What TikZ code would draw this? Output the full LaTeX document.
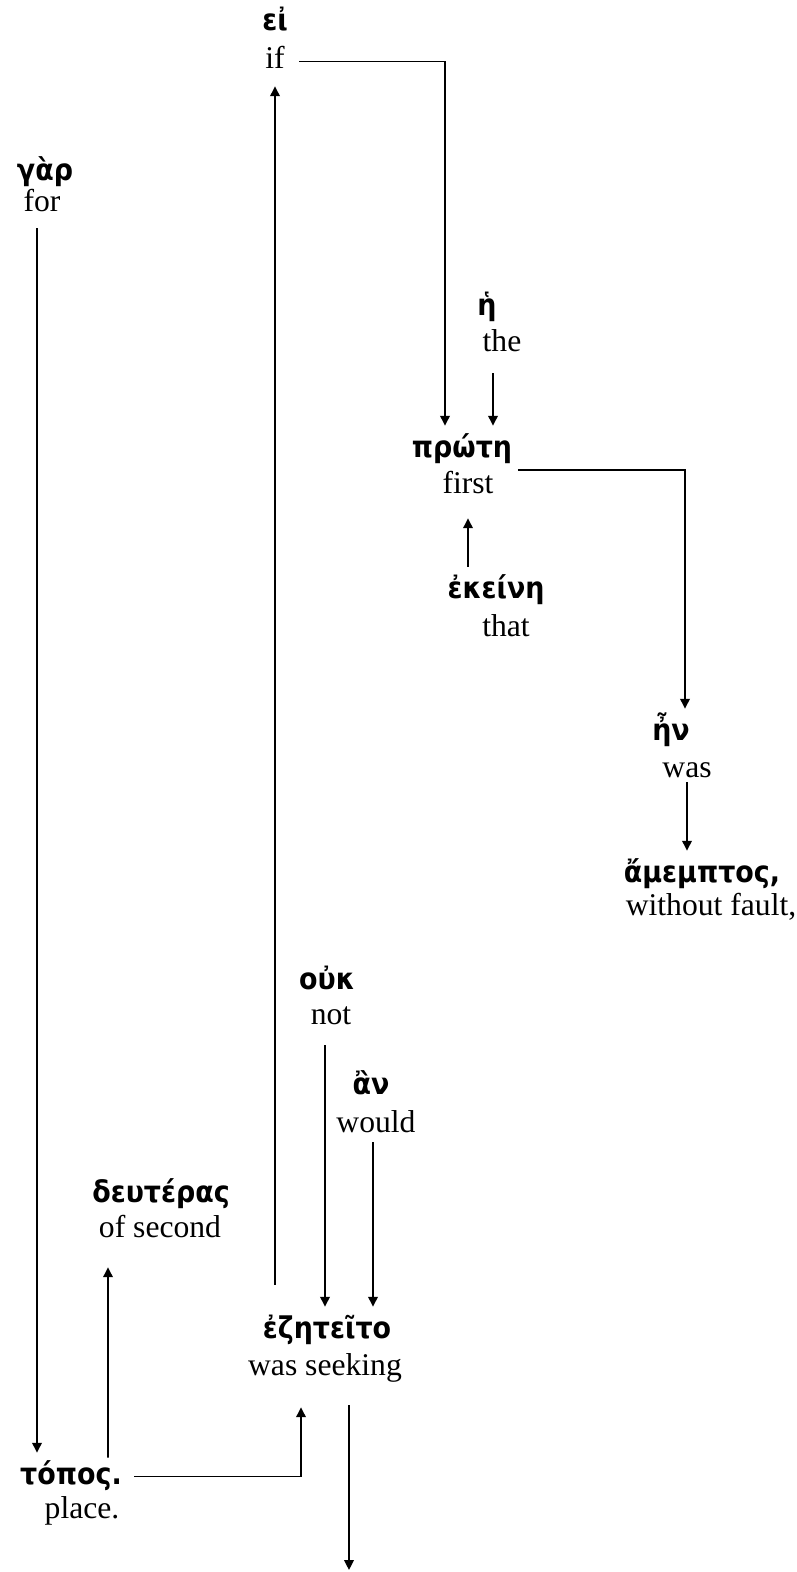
\documentclass[tikz,border=0pt]{standalone}
\usepackage{fontspec}
\setmainfont{Liberation Serif}
\newfontfamily\greekfont[Script=Greek, FakeStretch=0.9]{DejaVu Sans}
\usepackage{tikz}
\usetikzlibrary{arrows.meta}
\tikzset{
	wordbox/.style={anchor=base, inner xsep=.24cm, inner ysep=.2cm}
}
\tikzstyle{greek}=[wordbox, font=\greekfont\bfseries\fontsize{17}{20}\selectfont, text height=.42cm, text depth=.12cm]
\tikzstyle{gloss}=[wordbox, font=\fontsize{18}{21}\selectfont, text height=.44cm, text depth=.14cm]
\tikzstyle{wire}=[line width=1.1pt, -{Triangle[length=5.6pt,width=5.4pt]}]
\newcommand{\gword}[6]{
	\node[greek] (#1) at #3 {#5};
	\node[gloss] (#2) at #4 {#6};
}

\begin{document}
\begin{tikzpicture}
	\useasboundingbox (0,0) rectangle (15.94,-31.44);
	\gword{ei}{if}{(5.50,-.62)}{(5.50,-1.38)}{εἰ}{if}
	\gword{gar}{for}{(.90,-3.62)}{(.84,-4.22)}{γὰρ}{for}
	\gword{he}{the}{(9.74,-6.30)}{(10.04,-7.02)}{ἡ}{the}
	\gword{prote}{first}{(9.24,-9.14)}{(9.36,-9.86)}{πρώτη}{first}
	\gword{ekeine}{that}{(9.92,-11.96)}{(10.12,-12.72)}{ἐκείνη}{that}
	\gword{en}{was}{(13.42,-14.80)}{(13.74,-15.54)}{ἦν}{was}
	\gword{amemptos}{fault}{(14.04,-17.64)}{(14.22,-18.30)}{ἄμεμπτος,}{without fault,}
	\gword{ouk}{not}{(6.54,-19.78)}{(6.62,-20.48)}{οὐκ}{not}
	\gword{an}{would}{(7.42,-21.88)}{(7.52,-22.64)}{ἂν}{would}
	\gword{deuteras}{second}{(3.22,-24.04)}{(3.20,-24.74)}{δευτέρας}{of second}
	\gword{ezeteito}{seeking}{(6.54,-26.76)}{(6.50,-27.50)}{ἐζητεῖτο}{was seeking}
	\gword{topos}{place}{(1.42,-29.68)}{(1.64,-30.36)}{τόπος.}{place.}
	\coordinate (out) at (6.98,-31.40);
	% upper clause
	\draw[wire] ([xshift=.04cm]if.east) -| ([xshift=-.34cm]prote.north);
	\draw[wire] ([xshift=-.18cm,yshift=-.1cm]the.south) -- ([xshift=-.18cm]the.south |- prote.north);
	\draw[wire] (first.south |- ekeine.north) -- ([yshift=-.16cm]first.south);
	\draw[wire] ([shift={(.24,.31)}]first.east) -| ([xshift=.28cm]en.north);
	\draw[wire] ([yshift=.24cm]was.south) -- (was.south |- amemptos.north);
	% main clause
	\draw[wire] ([xshift=-.1cm]for.south) -- ([xshift=-.1cm]for.south |- topos.north);
	\draw[wire] ([shift={(.74,-.1)}]topos.north) -- ([shift={(-1.04,-.26)}]second.south);
	\draw[wire] (topos.east) -| ([shift={(-.48,-.3)}]seeking.south);
	\draw[wire] ([yshift=.44cm]ezeteito.north -| if.south) -- (if.south);
	\draw[wire] ([xshift=-.12cm,yshift=-.08cm]not.south) -- ([xshift=-.12cm]not.south |- ezeteito.north);
	\draw[wire] ([xshift=-.06cm,yshift=.14cm]would.south) -- ([xshift=-.06cm]would.south |- ezeteito.north);
	\draw[wire] ([yshift=-.26cm]seeking.south -| out) -- (out);
\end{tikzpicture}
\end{document}
